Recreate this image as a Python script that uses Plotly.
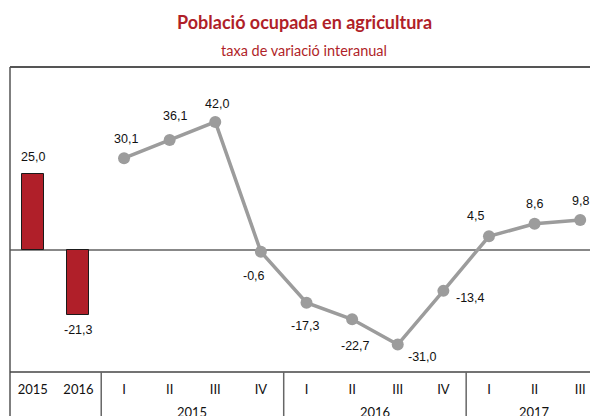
import plotly.graph_objects as go

annual_labels = ["2015", "2016"]
annual_values = [25.0, -21.3]
quarter_labels = ["I", "II", "III", "IV", "I", "II", "III", "IV", "I", "II", "III"]
quarter_values = [30.1, 36.1, 42.0, -0.6, -17.3, -22.7, -31.0, -13.4, 4.5, 8.6, 9.8]
year_groups = ["2015", "2016", "2017"]
year_group_sizes = [4, 4, 3]

title = "Població ocupada en agricultura"
subtitle = "taxa de variació interanual"

RED = "#B01F29"
GREY = "#9C9C9C"

def fmt(v):
    return f"{v:.1f}".replace(".", ",")

bar_x = list(range(len(annual_values)))
line_x = [len(annual_values) + i for i in range(len(quarter_values))]
all_labels = annual_labels + quarter_labels

fig = go.Figure()
fig.add_trace(go.Bar(x=bar_x, y=annual_values, width=0.48,
                     marker=dict(color=RED, line=dict(color="#1a1a1a", width=1)),
                     showlegend=False, hoverinfo="skip"))
fig.add_trace(go.Scatter(x=line_x, y=quarter_values, mode="lines+markers",
                         line=dict(color=GREY, width=3.5),
                         marker=dict(color=GREY, size=12),
                         showlegend=False, hoverinfo="skip"))

LABEL_FONT = dict(family="Liberation Sans, Arial", size=12.5, color="#111")
annotations = []
bar_offsets = [(0, 17), (0, -15)]
for x, v, (dx, dy) in zip(bar_x, annual_values, bar_offsets):
    annotations.append(dict(x=x, y=v, text=fmt(v), showarrow=False,
                            xshift=dx, yshift=dy, font=LABEL_FONT))
line_offsets = [(2, 19), (5, 24), (2, 18), (-7, -24), (-1, -23), (3, -27),
                (25, -12), (27, -7), (-13, 20), (0, 20), (0, 19)]
for x, v, (dx, dy) in zip(line_x, quarter_values, line_offsets):
    annotations.append(dict(x=x, y=v, text=fmt(v), showarrow=False,
                            xshift=dx, yshift=dy, font=LABEL_FONT))

start = len(annual_values)
for name, n in zip(year_groups, year_group_sizes):
    center = start + (n - 1) / 2
    annotations.append(dict(x=center, y=0, xref="x", yref="paper", yanchor="middle",
                            yshift=-40, text=name, showarrow=False,
                            font=dict(family="Lato, Open Sans", size=13, color="#111")))
    start += n

annotations.append(dict(x=0.5, y=1, xref="paper", yref="paper", yanchor="middle",
                        yshift=45, text="<b>" + title + "</b>", showarrow=False,
                        font=dict(family="Lato, Open Sans", size=18, color=RED)))
annotations.append(dict(x=0.5, y=1, xref="paper", yref="paper", yanchor="middle",
                        yshift=17, text=subtitle, showarrow=False,
                        font=dict(family="Lato, Open Sans", size=14.5, color=RED)))

shapes = [
    dict(type="line", xref="paper", yref="paper", x0=0, x1=1, y0=1, y1=1,
         line=dict(color="#555", width=2)),
    dict(type="line", xref="paper", yref="paper", x0=0, x1=0, y0=1, y1=-0.2,
         line=dict(color="#555", width=1.5)),
    dict(type="line", xref="paper", yref="paper", x0=0, x1=1, y0=0, y1=0,
         line=dict(color="#444", width=1.5)),
]
for sep in [1.5, 5.5, 9.5]:
    shapes.append(dict(type="line", xref="x", yref="paper", x0=sep, x1=sep, y0=0, y1=-0.2,
                       line=dict(color="#666", width=1.5)))

fig.update_layout(
    width=590, height=408,
    margin=dict(l=2, r=0, t=59, b=44),
    paper_bgcolor="white", plot_bgcolor="white",
    xaxis=dict(range=[-0.5, 12.39], tickvals=list(range(len(all_labels))), ticktext=all_labels,
               showgrid=False, zeroline=False, showline=False,
               ticks="outside", ticklen=5, tickcolor="rgba(0,0,0,0)",
               tickfont=dict(family="Lato, Open Sans", size=13, color="#111"), fixedrange=True),
    yaxis=dict(range=[-40, 60], showgrid=False, showticklabels=False, zeroline=True,
               zerolinecolor="#888", zerolinewidth=2, showline=False, ticks="", fixedrange=True),
    annotations=annotations, shapes=shapes, bargap=0,
)

fig.write_html("out.html")
